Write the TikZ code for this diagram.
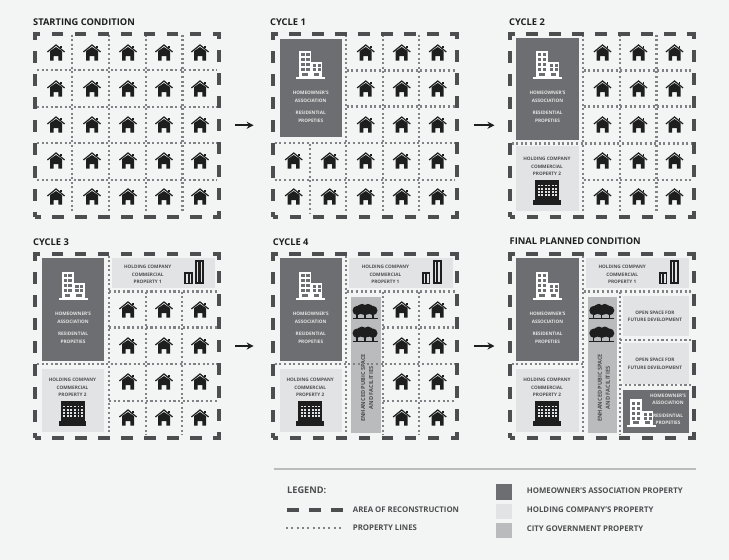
\documentclass[tikz,border=0pt]{standalone}
\usepackage{fontspec}
\setmainfont{Open Sans}
\usetikzlibrary{arrows.meta,positioning}
\definecolor{paper}{HTML}{F3F5F4}
\definecolor{ink}{HTML}{1E1E1F}
\definecolor{framegray}{HTML}{4C4E50}
\definecolor{dotgray}{HTML}{808285}
\definecolor{hoagray}{HTML}{6D6E71}
\definecolor{holdgray}{HTML}{E2E3E5}
\definecolor{citygray}{HTML}{B9BBBD}
\tikzset{
  frame/.style={draw=framegray,line width=4pt,inner sep=0pt,outer sep=0pt,minimum width=184pt,minimum height=183.5pt,dash pattern=on 11.5pt off 11.5pt,dash phase=5.75pt},
  propline/.style={draw=dotgray,line width=2.1pt,dash pattern=on 2.1pt off 2.5pt},
  arr/.style={-{Stealth[length=7pt,width=7pt]},line width=1.8pt,draw=ink},
  title/.style={anchor=west,inner sep=0pt,text=ink,font=\bfseries\fontsize{9.3}{10}\selectfont},
  lab/.style={inner sep=0pt,text=framegray,align=center,font=\bfseries\fontsize{4.7}{7.6}\selectfont},
  hoalab/.style={lab,text=white!82!hoagray},
  biglab/.style={inner sep=0pt,text=framegray,align=center,font=\bfseries\fontsize{5.6}{8}\selectfont},
  leglab/.style={anchor=west,inner sep=0pt,text=framegray,font=\bfseries\fontsize{7.8}{9}\selectfont},
  house/.pic={
    \fill[ink] (-6,-2) -- (0,-6) -- (6,-2) -- (6,7.6) -- (2.4,7.6) -- (2.4,3) -- (-2.4,3) -- (-2.4,7.6) -- (-6,7.6) -- cycle;
    \draw[ink,line width=1.2pt] (-8.6,-1) -- (0,-8) -- (8.6,-1);
    \fill[ink] (4.2,-7.2) rectangle (5.8,-4.8);
  },
  hoaicon/.pic={
    \fill[white] (-11.5,-14) rectangle (0.5,12);
    \fill[white] (0.5,-2.5) rectangle (11.5,12);
    \fill[white] (-14.5,12) rectangle (14.5,14);
    \foreach \wy in {-11.5,-6.5,-1.5,3.5}{
      \fill[hoagray] (-9.5,\wy) rectangle ++(3.4,3);
      \fill[hoagray] (-4.6,\wy) rectangle ++(3.4,3);
    }
    \foreach \wy in {-0.5,3.5}{
      \fill[hoagray] (2.3,\wy) rectangle ++(3.4,3);
      \fill[hoagray] (7,\wy) rectangle ++(3.4,3);
    }
    \fill[hoagray] (-8.5,8) rectangle ++(5.5,3);
    \fill[hoagray] (3,8) rectangle ++(5.5,3);
  },
  holdicon/.pic={
    \fill[ink] (-12,-12.5) rectangle (12,7);
    \fill[ink] (-13.8,7) rectangle (13.8,12);
    \foreach \wx in {-9.4,-5.8,-2.2,1.4,5,8.2}{
      \foreach \wy in {-8,-4.7,-1.4,1.9}{
        \fill[holdgray] (\wx,\wy) rectangle ++(1.9,1.8);
      }
    }
  },
  towers/.pic={
    \fill[ink] (-9.7,-0.5) rectangle (-1.3,12);
    \fill[ink] (1,-12) rectangle (10,12);
    \foreach \wx in {-8,-4.4}{\fill[holdgray] (\wx,1.5) rectangle ++(1.5,9);}
    \foreach \wx in {3,6.6}{\fill[holdgray] (\wx,-10) rectangle ++(1.4,20);}
  },
  trees/.pic={
    \fill[ink] (-7.8,-1) circle (4.7);
    \fill[ink] (7.8,-1) circle (4.7);
    \fill[ink] (-3,-2.4) circle (5.3);
    \fill[ink] (3,-2.4) circle (5.3);
    \fill[ink] (0,0) circle (3.8);
    \fill[ink] (-8.6,0) rectangle (-7.4,7);
    \fill[ink] (-0.6,0) rectangle (0.6,7);
    \fill[ink] (7.4,0) rectangle (8.6,7);
    \fill[ink] (-12.5,6.4) rectangle (12.5,7.6);
  }
}
\newcommand{\proplinesv}[1]{\foreach \lx/\la/\lb in {#1} \draw[propline] (\lx,\la) -- (\lx,\lb);}
\newcommand{\proplinesh}[1]{\foreach \ly/\la/\lb in {#1} \draw[propline] (\la,\ly) -- (\lb,\ly);}
\newcommand{\hoablock}[2]{
  \fill[hoagray] (6.8,#1) rectangle (69,#2);
  \pic at (38,31) {hoaicon};
  \node (hoaa) [hoalab] at (38,63.5) {HOMEOWNER'S\\ASSOCIATION};
  \node (hoab) [hoalab] at (38,83.5) {RESIDENTIAL\\PROPETIES};
}
\newcommand{\holdblock}[1]{
  \fill[holdgray] (6.8,#1) rectangle (69,177.7);
  \node (holdb) [lab] at (37.5,133.2) {HOLDING COMPANY\\COMMERCIAL\\PROPERTY 2};
  \pic at (37.5,159) {holdicon};
}
\newcommand{\topblock}{
  \fill[holdgray] (76.7,3.4) rectangle (179.8,33);
  \node (holda) [lab] at (112.7,20) {HOLDING COMPANY\\COMMERCIAL\\PROPERTY 1};
  \pic at (159,17.5) {towers};
}
\newcommand{\publicblock}{
  \fill[citygray] (78,42) rectangle (107.8,178);
  \pic at (92.3,57) {trees};
  \pic at (92.3,79.7) {trees};
  \node (public) [biglab,rotate=90] at (94.3,133.5) {ENHANCED PUBIC SPACE\\AND FACILITIES};
}
\begin{document}
\begin{tikzpicture}[x=1pt,y=-1pt]
  \useasboundingbox[fill=paper] (0,0) rectangle (729,560);

  \node (titlea) [title] at (33,21.7) {STARTING CONDITION};
  \begin{scope}[shift={(35,33.5)},name prefix=a-]
    \foreach \hx in {21,57,93,129,165}{\foreach \hy in {19.5,55.5,91.5,127.5,163.5}{\pic at (\hx,\hy) {house};}}
    \proplinesv{37/1/180,74/1/180,111/1/180,147.5/1/180}
    \proplinesh{36.5/2/182,73.5/2/182,109.5/2/182,146.5/2/182}
    \node (frame) [frame] at (92,91.75) {};
  \end{scope}

  \node (titleb) [title] at (270,21.7) {CYCLE 1};
  \begin{scope}[shift={(272.7,33.5)},name prefix=b-]
    \hoablock{5.6}{103.2}
    \foreach \hx in {93,129,165}{\foreach \hy in {19.5,55.5,91.5}{\pic at (\hx,\hy) {house};}}
    \foreach \hx in {21,57,93,129,165}{\foreach \hy in {127.5,163.5}{\pic at (\hx,\hy) {house};}}
    \proplinesv{37/110/180,73.7/1/180,110/1/180,146.5/1/180}
    \proplinesh{37/74/182,73/74/182,109.5/2/182,146.5/2/182}
    \node (frame) [frame] at (92,91.75) {};
  \end{scope}

  \node (titlec) [title] at (509,21.7) {CYCLE 2};
  \begin{scope}[shift={(509.5,33.5)},name prefix=c-]
    \hoablock{4.8}{106.5}
    \holdblock{112.5}
    \foreach \hx in {93,129,165}{\foreach \hy in {19.5,55.5,91.5,127.5,163.5}{\pic at (\hx,\hy) {house};}}
    \proplinesv{73.8/1/180,110.5/1/180,147/1/180}
    \proplinesh{37/74/182,73/74/182,110/2/182,146.5/74/182}
    \node (frame) [frame] at (92,91.75) {};
  \end{scope}

  \node (titled) [title] at (33,241.7) {CYCLE 3};
  \begin{scope}[shift={(35,254.5)},name prefix=d-]
    \hoablock{3.8}{106.5}
    \holdblock{114.5}
    \topblock
    \foreach \hx in {93,129,165}{\foreach \hy in {55.5,91.5,127.5,163.5}{\pic at (\hx,\hy) {house};}}
    \proplinesv{74.2/1/180,110.7/37/180,147.2/37/180}
    \proplinesh{37/74/182,73/74/182,109.5/2/182,146.5/74/182}
    \node (frame) [frame] at (92,91.5) {};
  \end{scope}

  \node (titlee) [title] at (272.7,241.7) {CYCLE 4};
  \begin{scope}[shift={(272.7,254.5)},name prefix=e-]
    \hoablock{3.8}{106.5}
    \holdblock{114.5}
    \topblock
    \publicblock
    \foreach \hx in {129,165}{\foreach \hy in {55.5,91.5,127.5,163.5}{\pic at (\hx,\hy) {house};}}
    \proplinesv{73.5/1/180,110/37/180,146.5/37/180}
    \proplinesh{37/74/182,73/110/182,109.5/2/182,146.5/110/182}
    \node (frame) [frame] at (92,91.5) {};
  \end{scope}

  \node (titlef) [title] at (509.5,241) {FINAL PLANNED CONDITION};
  \begin{scope}[shift={(509.5,254.5)},name prefix=f-]
    \hoablock{3.8}{106.5}
    \holdblock{114}
    \topblock
    \publicblock
    \fill[holdgray] (113,41) rectangle (179.5,81.5);
    \fill[holdgray] (113,88.8) rectangle (179.5,129);
    \fill[hoagray] (113,135) rectangle (179.5,178);
    \node (opena) [lab] at (145.5,61.8) {OPEN SPACE FOR\\FUTURE DEVELOPMENT};
    \node (openb) [lab] at (145.5,109.3) {OPEN SPACE FOR\\FUTURE DEVELOPMENT};
    \pic at (132,158.5) {hoaicon};
    \node (hoac) [hoalab] at (158.5,145) {HOMEOWNER'S\\ASSOCIATION};
    \node (hoad) [hoalab] at (158.5,165) {RESIDENTIAL\\PROPETIES};
    \proplinesv{73.8/1/180,110.5/37/180}
    \proplinesh{37/74/182,85.5/110.5/182,130.5/110.5/182,109.5/2/74}
    \node (frame) [frame] at (92,91.5) {};
  \end{scope}

  \draw[arr,shorten <=16pt,shorten >=19pt] (a-frame.east) -- (b-frame.west);
  \draw[arr,shorten <=17pt,shorten >=15pt] (b-frame.east) -- (c-frame.west);
  \draw[arr,shorten <=16pt,shorten >=19pt] (d-frame.east) -- (e-frame.west);
  \draw[arr,shorten <=17pt,shorten >=15pt] (e-frame.east) -- (f-frame.west);

  \coordinate (rulea) at (274,469);
  \coordinate (ruleb) at (696,469);
  \draw[draw=citygray,line width=1.2pt] (rulea) -- (ruleb);
  \node (legend) [leglab,font=\bfseries\fontsize{9.2}{10}\selectfont] at (287,490) {LEGEND:};
  \coordinate (areaa) at (287,510);
  \coordinate (areab) at (343,510);
  \draw[draw=framegray,line width=4pt,dash pattern=on 11.5pt off 10.5pt] (areaa) -- (areab);
  \node (arealab) [leglab] at (352.7,510) {AREA OF RECONSTRUCTION};
  \coordinate (lotsa) at (286,528);
  \coordinate (lotsb) at (344,528);
  \draw[propline,line width=2pt,dash pattern=on 2pt off 3.3pt] (lotsa) -- (lotsb);
  \node (lotslab) [leglab] at (352.7,528) {PROPERTY LINES};
  \fill[hoagray] (496,484.3) rectangle (511.7,500);
  \fill[holdgray] (496,503.7) rectangle (511.7,519);
  \fill[citygray] (496,522.7) rectangle (511.7,538);
  \node (keya) [leglab] at (526.7,491) {HOMEOWNER'S ASSOCIATION PROPERTY};
  \node (keyb) [leglab] at (526.7,510) {HOLDING COMPANY'S PROPERTY};
  \node (keyc) [leglab] at (526.7,529) {CITY GOVERNMENT PROPERTY};
\end{tikzpicture}
\end{document}
